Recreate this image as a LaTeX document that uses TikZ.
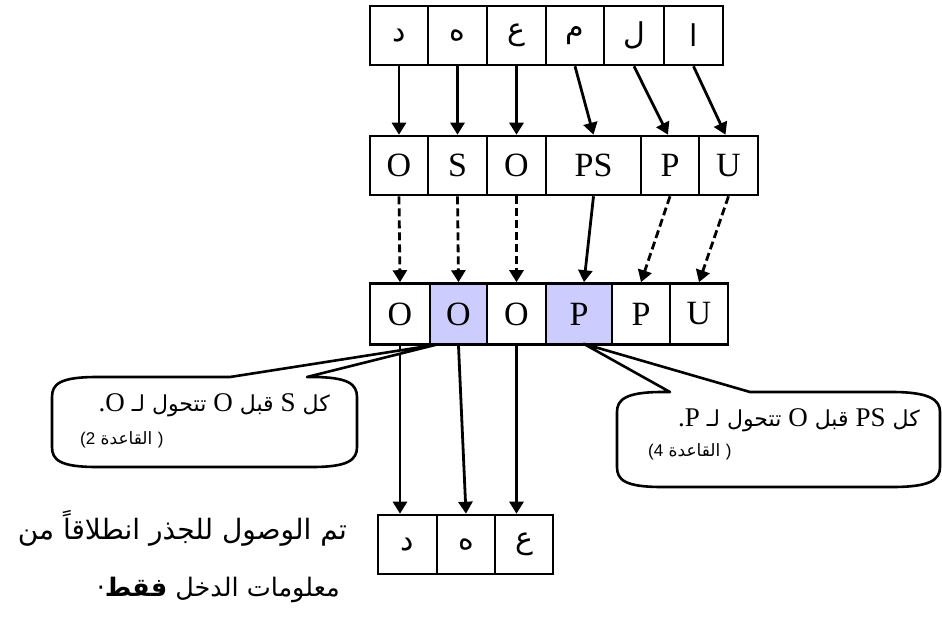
\documentclass[tikz,border=0pt]{standalone}
\usepackage{fontspec}
\setmainfont{Liberation Serif}
\newfontfamily\arabicfont[Script=Arabic]{DejaVu Sans}
\newfontfamily\latsans{Liberation Sans}
\TeXXeTstate=1
\usetikzlibrary{arrows.meta}
\definecolor{lav}{RGB}{204,204,255}
\newcommand\latn[1]{{\fontsize{27}{27}\rmfamily\selectfont #1}}
\tikzset{
  cell/.style={draw, line width=2.6pt, inner sep=0pt, minimum height=59pt,
               font=\fontsize{34}{34}\selectfont},
  arcell/.style={cell, font=\arabicfont\fontsize{30}{30}\selectfont},
  hl/.style={fill=lav},
  arr/.style={line width=2.8pt, -{Triangle[width=14pt,length=12pt]}},
  darr/.style={arr, dash pattern=on 8pt off 4pt},
  callout/.style={line width=2.6pt, line join=round},
  ctext/.style={inner sep=0pt, font=\arabicfont\fontsize{22}{26}\selectfont},
  csmall/.style={inner sep=0pt, font=\arabicfont\fontsize{17}{20}\selectfont},
  btext/.style={inner sep=0pt, font=\arabicfont\fontsize{28}{32}\selectfont},
}
\begin{document}
\begin{tikzpicture}[x=1pt,y=-1pt]
\useasboundingbox (0,0) rectangle (942,619);
% top row
\node[arcell, minimum width=58pt] (t1) at (399,35.5) {د};
\node[arcell, minimum width=59pt] (t2) at (457.5,35.5) {ه};
\node[arcell, minimum width=59pt] (t3) at (516.5,35.5) {ع};
\node[arcell, minimum width=58pt] (t4) at (575,35.5) {م};
\node[arcell, minimum width=60pt] (t5) at (634,35.5) {ل};
\node[arcell, minimum width=59pt] (t6) at (693.5,35.5) {ا};
% second row
\node[cell, minimum width=58pt] (s1) at (399,165.5) {O};
\node[cell, minimum width=59pt] (s2) at (457.5,165.5) {S};
\node[cell, minimum width=59pt] (s3) at (516.5,165.5) {O};
\node[cell, minimum width=95pt] (s4) at (593.5,165.5) {PS};
\node[cell, minimum width=58pt] (s5) at (670,165.5) {P};
\node[cell, minimum width=59pt] (s6) at (728.5,165.5) {U};
% third row
\node[cell, minimum width=60pt, minimum height=61pt] (r1) at (400,314) {O};
\node[cell, hl, minimum width=57pt, minimum height=61pt] (r2) at (458.5,314) {O};
\node[cell, minimum width=59pt, minimum height=61pt] (r3) at (516.5,314) {O};
\node[cell, hl, minimum width=66pt, minimum height=61pt] (r4) at (579,314) {P};
\node[cell, minimum width=58pt, minimum height=61pt] (r5) at (641,314) {P};
\node[cell, minimum width=58pt, minimum height=61pt] (r6) at (699,314) {U};
% bottom row
\node[arcell, minimum width=59pt] (q1) at (407.5,544.5) {د};
\node[arcell, minimum width=58pt] (q2) at (466,544.5) {ه};
\node[arcell, minimum width=58pt] (q3) at (524,544.5) {ع};
% arrows row1 -> row2
\draw[arr] (t1.south) -- (s1.north);
\draw[arr] (t2.south) -- (s2.north);
\draw[arr] (t3.south) -- (s3.north);
\draw[arr] (t4.south) -- (s4.north);
\draw[arr] (t5.south) -- ([xshift=-2pt]s5.north);
\draw[arr] (t6.south) -- ([xshift=-3pt]s6.north);
% arrows row2 -> row3
\draw[darr] (s1.south) -- (r1.north);
\draw[darr] (s2.south) -- (r2.north);
\draw[darr] (s3.south) -- (r3.north);
\draw[arr]  (s4.south) -- ([xshift=5pt]r4.north);
\draw[darr] (s5.south) -- (r5.north);
\draw[darr] (s6.south) -- (r6.north);
% arrows row3 -> row4
\draw[arr] (r1.south) -- (r1.south |- q1.north);
\draw[arr] (r2.south) -- (q2.north);
\draw[arr] (r3.south) -- (r3.south |- q3.north);
% callouts
\coordinate (tipL) at ([xshift=7pt,yshift=1pt]r2.south west);
\coordinate (tipR) at ([xshift=39pt,yshift=2pt]r4.south west);
\draw[callout, fill=white] (230,377) -- (tipL) -- (307,377) -- (312,377)
  .. controls (348,377) and (357,384) .. (357,397) -- (357,447)
  .. controls (357,460) and (348,467) .. (312,467) -- (97,467)
  .. controls (60,467) and (52,460) .. (52,447) -- (52,397)
  .. controls (52,384) and (60,377) .. (97,377) -- cycle;
\draw[callout, fill=white] (670,392) -- (tipR) -- (750,392) -- (892,392)
  .. controls (930,392) and (940,400) .. (940,412) -- (940,467)
  .. controls (940,480) and (930,487) .. (892,487) -- (662,487)
  .. controls (625,487) and (617,480) .. (617,467) -- (617,412)
  .. controls (617,400) and (625,392) .. (662,392) -- cycle;
% callout texts
\node[ctext, anchor=east] (cl1) at (330,405)
  {\beginR كل \latn{S} قبل \latn{O} تتحول لـ \latn{.O}\endR};
\node[csmall, anchor=west] (cl2) at (80,440)
  {{\latsans(2}~\beginR القاعدة\endR~{\latsans)}};
\node[ctext, anchor=east] (cr1) at (920,420)
  {\beginR كل \latn{PS} قبل \latn{O} تتحول لـ \latn{.P}\endR};
\node[csmall, anchor=west] (cr2) at (648,452)
  {{\latsans(4}~\beginR القاعدة\endR~{\latsans)}};
% bottom-left text
\node[btext, anchor=east] (b1) at (347,528)
  {\beginR تم الوصول للجذر انطلاقاً من\endR};
\node[btext, anchor=east, font=\arabicfont\fontsize{25.5}{30}\selectfont] (b2) at (340,590)
  {\beginR معلومات الدخل \textbf{فقط}·\endR};
\end{tikzpicture}
\end{document}
